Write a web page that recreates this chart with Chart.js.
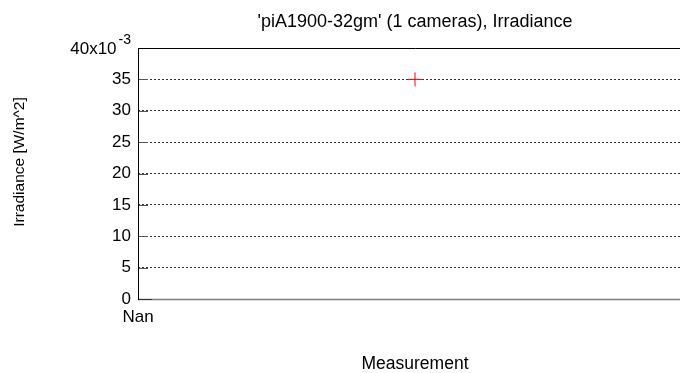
<!DOCTYPE html>
<html>
<head>
<meta charset="utf-8">
<script src="https://cdn.jsdelivr.net/npm/chart.js@4/dist/chart.umd.min.js"></script>
<style>
  html, body { margin: 0; padding: 0; background: #fff; overflow: hidden; }
  #wrap { width: 700px; height: 373px; }
</style>
</head>
<body>
<div id="wrap"><canvas id="chart" width="700" height="373"></canvas></div>
<script>
// one measurement, irradiance in W/m^2
const measurement = [1];
const irradiance = [0.035];
const yTicks = [0, 0.005, 0.01, 0.015, 0.02, 0.025, 0.03, 0.035, 0.04];
const xTickLabels = ['Nan'];
const titleText = "'piA1900-32gm' (1 cameras), Irradiance";
const xTitle = 'Measurement';
const yTitle = 'Irradiance [W/m^2]';

const FONT = "'Liberation Sans', Arial, sans-serif";

// axes frame, tick stubs, exponent label and titles
const frame = {
  id: 'frame',
  afterDraw(chart) {
    const { ctx, chartArea: a, scales: { y } } = chart;
    const midX = (a.left + a.right) / 2;
    ctx.save();

    ctx.strokeStyle = '#808080';
    ctx.lineWidth = 1.5;
    ctx.beginPath();
    ctx.moveTo(a.left, a.bottom + 0.5);
    ctx.lineTo(a.right, a.bottom + 0.5);
    ctx.stroke();

    ctx.lineWidth = 1;
    ctx.strokeStyle = '#555';
    yTicks.forEach(v => {
      const py = Math.round(y.getPixelForValue(v)) + 0.5;
      ctx.beginPath();
      ctx.moveTo(a.left, py);
      ctx.lineTo(a.left + 10, py);
      ctx.stroke();
    });
    ctx.strokeStyle = '#333';
    ctx.beginPath();
    ctx.moveTo(a.left, a.bottom + 0.5);
    ctx.lineTo(a.left + 14, a.bottom + 0.5);
    ctx.stroke();

    ctx.strokeStyle = '#000';
    ctx.beginPath();
    ctx.moveTo(a.left + 0.5, a.bottom + 1);
    ctx.lineTo(a.left + 0.5, a.top + 0.5);
    ctx.lineTo(a.right, a.top + 0.5);
    ctx.stroke();

    // top tick label with power-of-ten exponent
    const topY = y.getPixelForValue(yTicks[yTicks.length - 1]);
    const rightX = a.left - 7;
    ctx.fillStyle = '#000';
    ctx.textBaseline = 'middle';
    ctx.textAlign = 'right';
    ctx.font = '14px ' + FONT;
    const expW = ctx.measureText('-3').width;
    ctx.fillText('-3', rightX, topY - 8);
    ctx.font = '17px ' + FONT;
    ctx.fillText((yTicks[yTicks.length - 1] * 1000).toFixed(0) + 'x10', rightX - expW - 2, topY + 1);

    // chart title and axis titles
    ctx.textAlign = 'center';
    ctx.font = '18px ' + FONT;
    ctx.fillText(titleText, midX, 22);
    ctx.font = '17.5px ' + FONT;
    ctx.fillText(xTitle, midX, 364);
    ctx.font = '15.5px ' + FONT;
    ctx.translate(20, 162);
    ctx.rotate(-Math.PI / 2);
    ctx.fillText(yTitle, 0, 0);
    ctx.restore();
  }
};

new Chart(document.getElementById('chart'), {
  type: 'scatter',
  data: {
    datasets: [{
      data: measurement.map((m, i) => ({ x: m, y: irradiance[i] })),
      pointStyle: 'cross',
      pointRadius: 7,
      pointHoverRadius: 7,
      borderColor: '#ff0000',
      backgroundColor: '#ff0000',
      borderWidth: 1,
      showLine: false
    }]
  },
  options: {
    responsive: false,
    animation: false,
    events: [],
    layout: { padding: { left: 0, right: 6, top: 48, bottom: 0 } },
    plugins: {
      legend: { display: false },
      tooltip: { enabled: false },
      title: { display: false }
    },
    scales: {
      x: {
        type: 'linear',
        min: 0,
        max: 2,
        afterFit(scale) { scale.height = 74; },
        afterBuildTicks(scale) { scale.ticks = [{ value: 0 }]; },
        ticks: {
          color: '#000',
          font: { family: FONT, size: 17 },
          padding: 0,
          maxRotation: 0,
          callback: (v, i) => xTickLabels[i]
        },
        grid: { display: false },
        border: { display: false }
      },
      y: {
        min: 0,
        max: 0.04,
        afterFit(scale) { scale.width = 138; },
        afterBuildTicks(scale) { scale.ticks = yTicks.map(v => ({ value: v })); },
        ticks: {
          color: '#000',
          font: { family: FONT, size: 17 },
          padding: 7,
          callback: v => (v >= 0.04 ? '' : String(Math.round(v * 1000)))
        },
        grid: {
          drawTicks: false,
          lineWidth: 1,
          color: ctx => (ctx.tick && (ctx.tick.value <= 0 || ctx.tick.value >= 0.04) ? 'rgba(0,0,0,0)' : '#333')
        },
        border: { display: false, dash: [2, 2] }
      }
    }
  },
  plugins: [frame]
});
</script>
</body>
</html>
